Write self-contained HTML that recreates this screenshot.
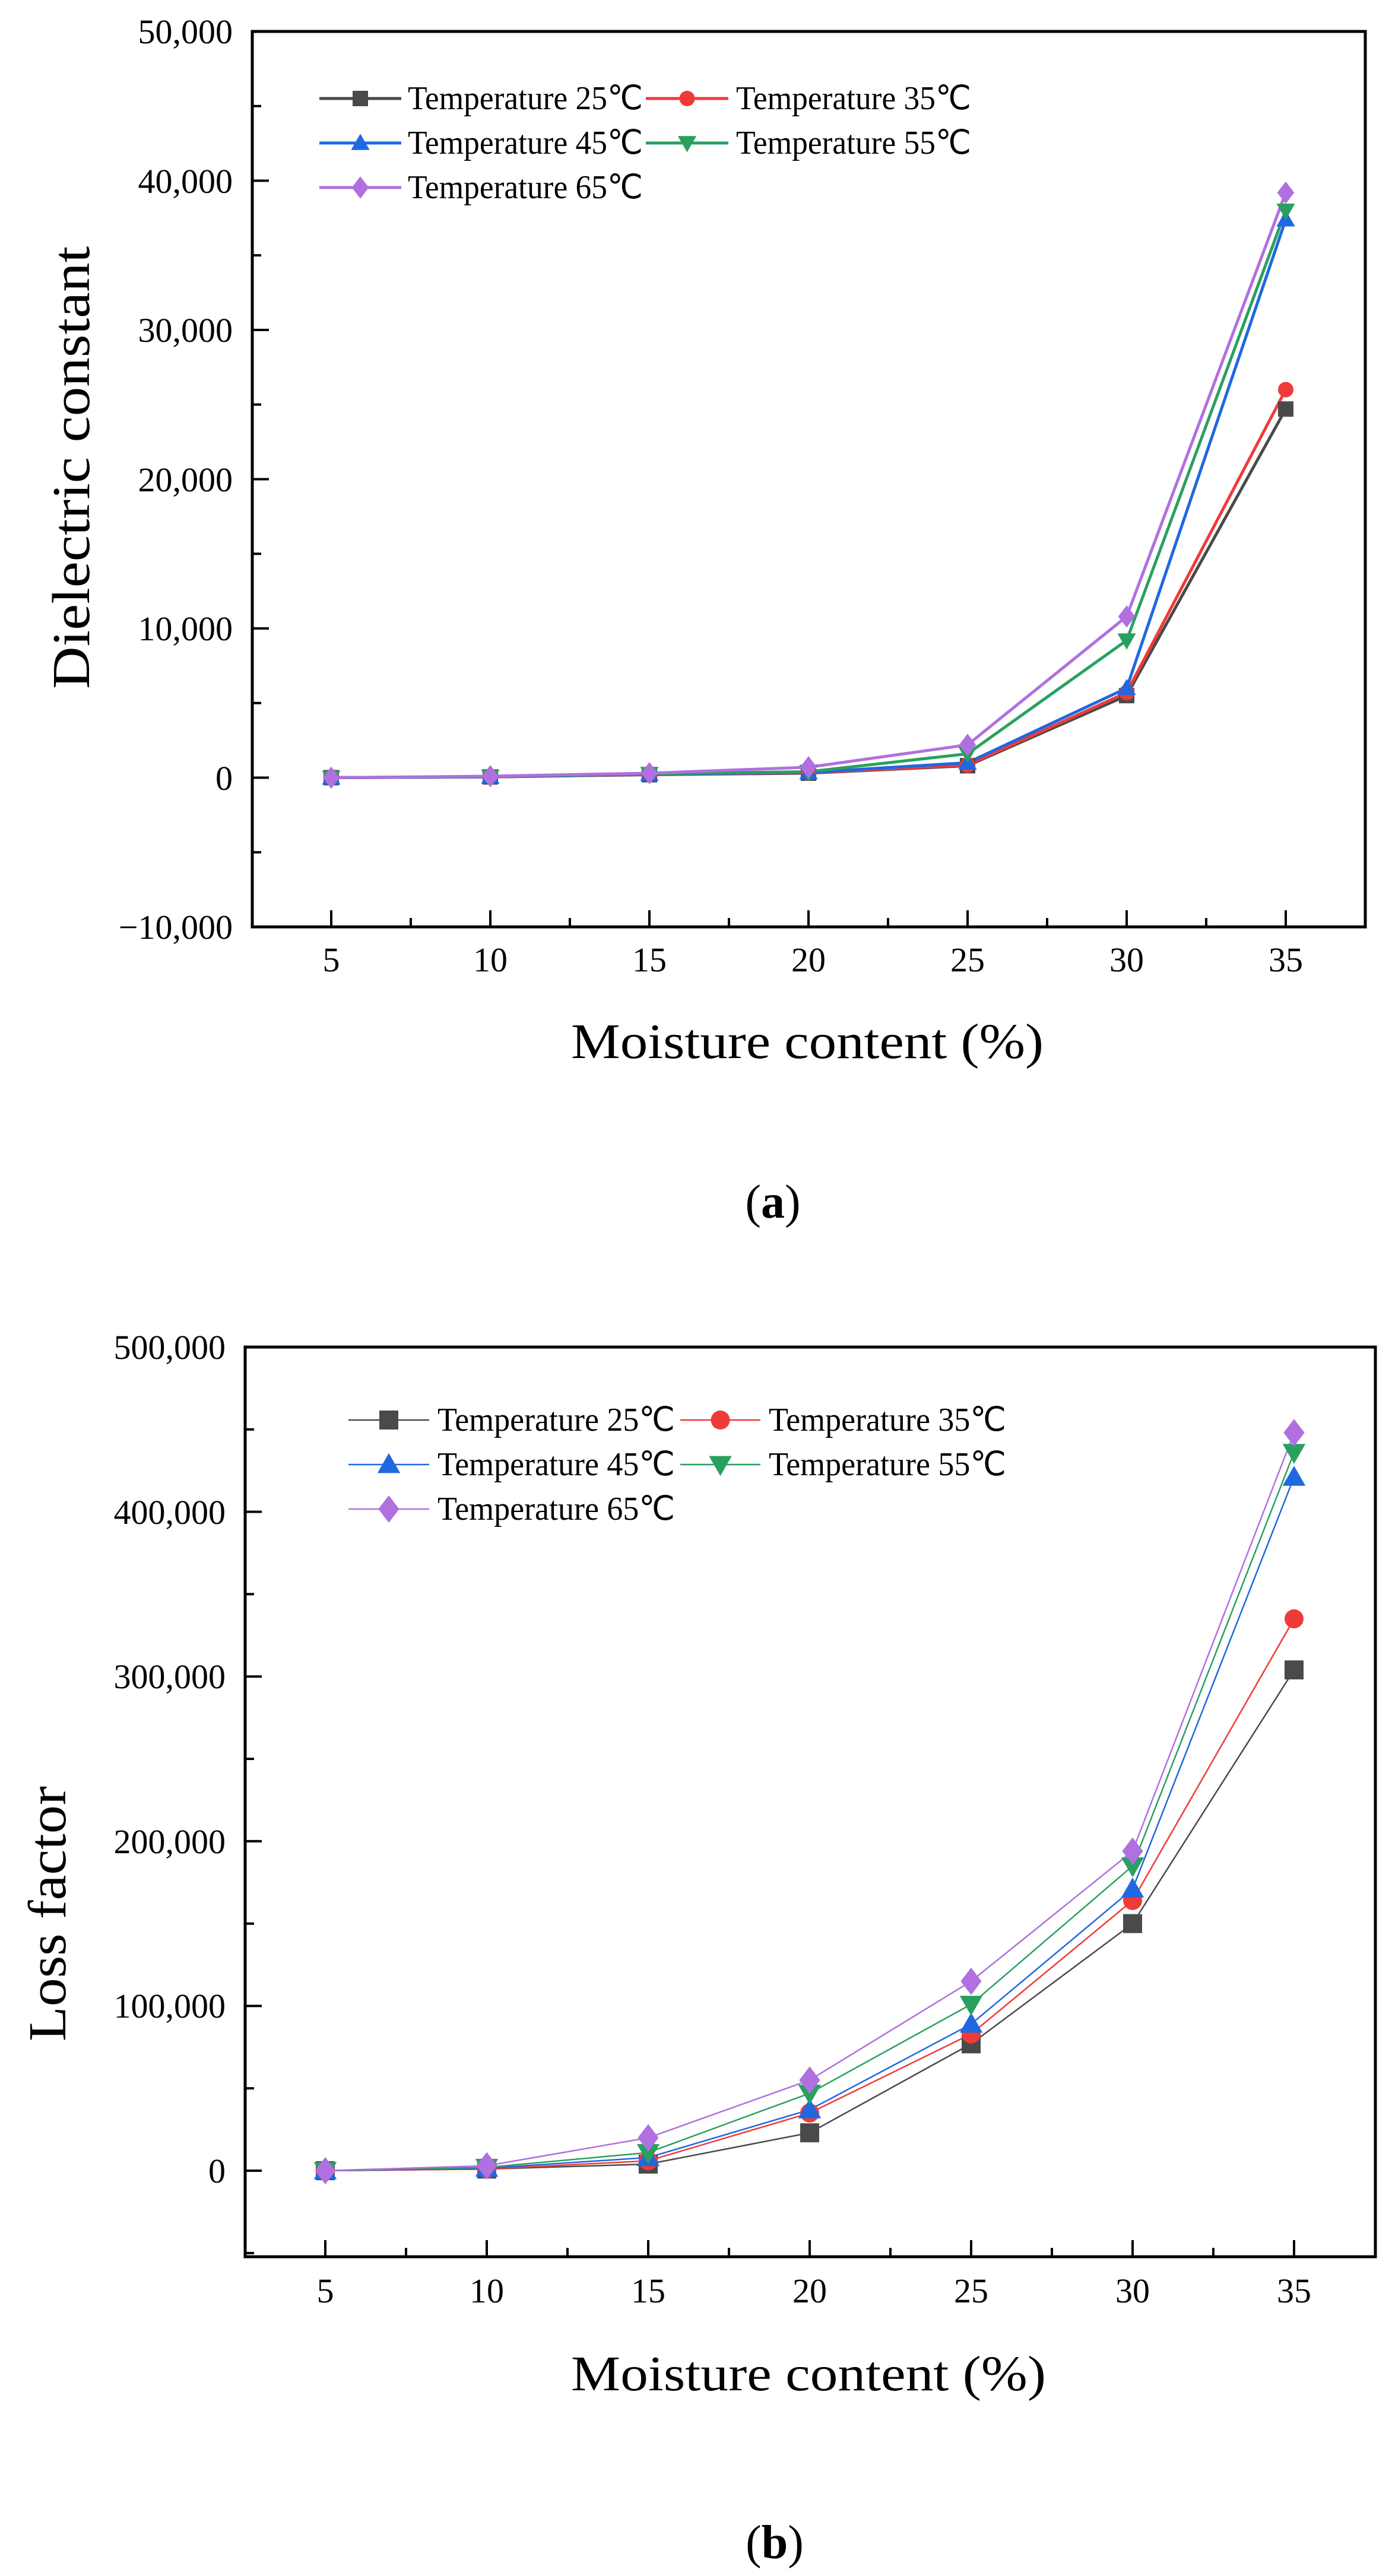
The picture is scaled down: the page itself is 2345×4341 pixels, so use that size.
<!DOCTYPE html>
<html><head><meta charset="utf-8"><style>
html,body{margin:0;padding:0;background:#fff;width:2345px;height:4341px;overflow:hidden}
svg{display:block}
text{font-family:"Liberation Serif",serif;fill:#000}
</style></head><body>
<svg id="s" width="2345" height="4341" viewBox="0 0 2345 4341" xmlns="http://www.w3.org/2000/svg">
<g id="g"></g>
<!-- chart a text -->
<g font-size="58" text-anchor="end">
<text x="392" y="73">50,000</text>
<text x="392" y="325">40,000</text>
<text x="392" y="576">30,000</text>
<text x="392" y="828">20,000</text>
<text x="392" y="1079">10,000</text>
<text x="392" y="1331">0</text>
<text x="392" y="1582">−10,000</text>
</g>
<g font-size="58" text-anchor="middle">
<text x="558" y="1637">5</text>
<text x="826" y="1637">10</text>
<text x="1094" y="1637">15</text>
<text x="1362" y="1637">20</text>
<text x="1630" y="1637">25</text>
<text x="1898" y="1637">30</text>
<text x="2166" y="1637">35</text>
</g>
<text x="962" y="1783" font-size="84" textLength="796" lengthAdjust="spacingAndGlyphs">Moisture content (%)</text>
<text transform="translate(150,1161) rotate(-90)" font-size="90" textLength="746" lengthAdjust="spacingAndGlyphs">Dielectric constant</text>
<text x="1302" y="2052" font-size="80" text-anchor="middle">(<tspan font-weight="bold">a</tspan>)</text>
<g font-size="56">
<text x="687" y="184" textLength="396" lengthAdjust="spacingAndGlyphs">Temperature 25℃</text>
<text x="1240" y="184" textLength="396" lengthAdjust="spacingAndGlyphs">Temperature 35℃</text>
<text x="687" y="259" textLength="396" lengthAdjust="spacingAndGlyphs">Temperature 45℃</text>
<text x="1240" y="259" textLength="396" lengthAdjust="spacingAndGlyphs">Temperature 55℃</text>
<text x="687" y="334" textLength="396" lengthAdjust="spacingAndGlyphs">Temperature 65℃</text>
</g>
<!-- chart b text -->
<g font-size="58" text-anchor="end">
<text x="380" y="2290">500,000</text>
<text x="380" y="2568">400,000</text>
<text x="380" y="2845">300,000</text>
<text x="380" y="3123">200,000</text>
<text x="380" y="3400">100,000</text>
<text x="380" y="3678">0</text>
</g>
<g font-size="58" text-anchor="middle">
<text x="548" y="3880">5</text>
<text x="820" y="3880">10</text>
<text x="1092" y="3880">15</text>
<text x="1364" y="3880">20</text>
<text x="1636" y="3880">25</text>
<text x="1908" y="3880">30</text>
<text x="2180" y="3880">35</text>
</g>
<text x="962" y="4028" font-size="84" textLength="800" lengthAdjust="spacingAndGlyphs">Moisture content (%)</text>
<text transform="translate(110,3440) rotate(-90)" font-size="90" textLength="430" lengthAdjust="spacingAndGlyphs">Loss factor</text>
<text x="1305" y="4311" font-size="80" text-anchor="middle">(<tspan font-weight="bold">b</tspan>)</text>
<g font-size="56">
<text x="737" y="2411" textLength="400" lengthAdjust="spacingAndGlyphs">Temperature 25℃</text>
<text x="1295" y="2411" textLength="400" lengthAdjust="spacingAndGlyphs">Temperature 35℃</text>
<text x="737" y="2486" textLength="400" lengthAdjust="spacingAndGlyphs">Temperature 45℃</text>
<text x="1295" y="2486" textLength="400" lengthAdjust="spacingAndGlyphs">Temperature 55℃</text>
<text x="737" y="2561" textLength="400" lengthAdjust="spacingAndGlyphs">Temperature 65℃</text>
</g>
</svg>
<script>
var NS="http://www.w3.org/2000/svg",G=document.getElementById("g");
function el(t,a){var e=document.createElementNS(NS,t);for(var k in a)e.setAttribute(k,a[k]);G.appendChild(e);return e;}
var C=["#4a4a4a","#f03a3a","#1f68e0","#2aa060","#b070e0"];
function mk(type,x,y,s,c){
 if(type==0)el("rect",{x:x-s/2,y:y-s/2,width:s,height:s,fill:c});
 else if(type==1)el("circle",{cx:x,cy:y,r:s/2,fill:c});
 else if(type==2)el("polygon",{points:(x)+","+(y-s*0.6)+" "+(x-s*0.6)+","+(y+s*0.45)+" "+(x+s*0.6)+","+(y+s*0.45),fill:c});
 else if(type==3)el("polygon",{points:(x)+","+(y+s*0.6)+" "+(x-s*0.6)+","+(y-s*0.45)+" "+(x+s*0.6)+","+(y-s*0.45),fill:c});
 else el("polygon",{points:x+","+(y-s*0.72)+" "+(x+s*0.55)+","+y+" "+x+","+(y+s*0.72)+" "+(x-s*0.55)+","+y,fill:c});
}
function chart(o){
 el("rect",{x:o.L,y:o.T,width:o.R-o.L,height:o.B-o.T,fill:"none",stroke:"#000","stroke-width":5});
 for(var i=0;i<7;i++){var x=o.x0+i*o.dx;el("line",{x1:x,y1:o.B,x2:x,y2:o.B-28,stroke:"#000","stroke-width":4});
  if(i<6){var xm=x+o.dx/2;el("line",{x1:xm,y1:o.B,x2:xm,y2:o.B-15,stroke:"#000","stroke-width":4});}}
 o.yt.forEach(function(y){el("line",{x1:o.L,y1:y,x2:o.L+28,y2:y,stroke:"#000","stroke-width":4});});
 o.ym.forEach(function(y){el("line",{x1:o.L,y1:y,x2:o.L+15,y2:y,stroke:"#000","stroke-width":4});});
 for(var s=0;s<5;s++){var p=o.d[s].map(function(v,i){return (o.x0+i*o.dx)+","+o.fy(v);}).join(" ");
  el("polyline",{points:p,fill:"none",stroke:C[s],"stroke-width":o.lw,"stroke-linejoin":"round"});}
 for(var s=0;s<5;s++)o.d[s].forEach(function(v,i){mk(s,o.x0+i*o.dx,o.fy(v),o.ms,C[s]);});
 for(var s=0;s<5;s++){var row=Math.floor(s/2),col=s%2;var y=o.ly+row*75;var x1=o.lx[col][0],x2=o.lx[col][1];
  el("line",{x1:x1,y1:y,x2:x2,y2:y,stroke:C[s],"stroke-width":o.lw});mk(s,(x1+x2)/2,y,o.ms,C[s]);}
}
function fya(v){return 1310.5-v*0.02515;}
var ya=[],yam=[];for(var v=-10000;v<=50000;v+=10000){ya.push(fya(v));if(v<50000)yam.push(fya(v+5000));}
chart({L:425,T:53,R:2300,B:1562,x0:558,dx:268,fy:fya,yt:ya,ym:yam,lw:5,ms:26,ly:166,lx:[[538,676],[1088,1227]],
 d:[[0,50,200,300,800,5500,24700],[0,50,220,320,850,5700,26000],[0,60,240,350,1000,6000,37400],[0,80,260,400,1600,9200,38000],[0,100,300,700,2200,10800,39200]]});
function fyb(v){return 3658-v*0.002776;}
var yb=[],ybm=[];for(var v=0;v<=500000;v+=100000){yb.push(fyb(v));}for(var v=-50000;v<500000;v+=100000)ybm.push(fyb(v));
chart({L:413,T:2270,R:2317,B:3803,x0:548,dx:272,fy:fyb,yt:yb,ym:ybm,lw:2.5,ms:32,ly:2393,lx:[[587,723],[1146,1281]],
 d:[[0,1000,4000,23000,77000,150000,304000],[0,1000,6000,35000,83000,164000,335000],[0,1500,8000,37000,89000,171000,421000],[0,2000,11000,47000,101000,185000,436000],[0,3000,20000,55000,115000,194000,448000]]});
</script>
</body></html>
